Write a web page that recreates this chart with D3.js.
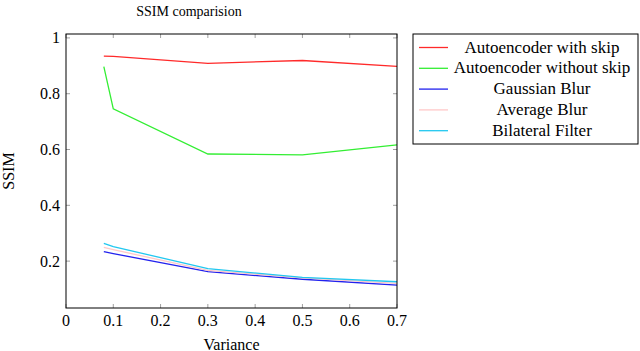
<!DOCTYPE html>
<html>
<head>
<meta charset="utf-8">
<script src="https://cdn.jsdelivr.net/npm/d3@7"></script>
<style>
  body { margin: 0; background: #fff; }
  text { font-family: "Liberation Serif", "DejaVu Serif", serif; fill: #000; }
</style>
</head>
<body>
<svg id="graph" width="640" height="351"></svg>
<script>
/*******************************************************************************************/
// Data

var variance = [0.08, 0.1, 0.3, 0.5, 0.7];
var skipAE   = [0.935, 0.934, 0.909, 0.919, 0.898];
var noSkipAE = [0.897, 0.746, 0.584, 0.581, 0.617];
var gaussian = [0.234, 0.227, 0.162, 0.135, 0.114];
var average  = [0.249, 0.241, 0.167, 0.140, 0.120];
var bilateral = [0.264, 0.252, 0.173, 0.142, 0.126];

var seriesNames = ['Autoencoder with skip', 'Autoencoder without skip', 'Gaussian Blur', 'Average Blur', 'Bilateral Filter'];
var seriesColors = ['#ff2a2a', '#33ee33', '#2222ee', '#ffc8c8', '#22c8f0'];
var seriesValues = [skipAE, noSkipAE, gaussian, average, bilateral];

var xTicks = [0, 0.1, 0.2, 0.3, 0.4, 0.5, 0.6, 0.7];
var yTicks = [0.2, 0.4, 0.6, 0.8, 1];

/*******************************************************************************************/
// Scales and frame

var pLeft = 66, pRight = 397, pTop = 34, pBottom = 308;
var xScale = d3.scaleLinear().domain([0, 0.7]).range([pLeft, pRight]);
var yScale = d3.scaleLinear().domain([0.032, 1.014]).range([pBottom, pTop]);

var svg = d3.select('#graph');

var fmt = function(d){ return d === 0 || d === 1 ? String(d) : d3.format('.1f')(d); };

// ticks on all four sides, pointing inwards
var tickLen = 4;
var ticks = svg.append('g').attr('stroke', '#888').attr('stroke-width', 0.8);
xTicks.forEach(function(t){
  ticks.append('line').attr('x1', xScale(t)).attr('x2', xScale(t)).attr('y1', pBottom).attr('y2', pBottom - tickLen);
  ticks.append('line').attr('x1', xScale(t)).attr('x2', xScale(t)).attr('y1', pTop).attr('y2', pTop + tickLen);
});
yTicks.forEach(function(t){
  ticks.append('line').attr('x1', pLeft).attr('x2', pLeft + tickLen).attr('y1', yScale(t)).attr('y2', yScale(t));
  ticks.append('line').attr('x1', pRight).attr('x2', pRight - tickLen).attr('y1', yScale(t)).attr('y2', yScale(t));
});

svg.selectAll('.xlab').data(xTicks).enter().append('text')
  .attr('x', function(d){ return xScale(d); }).attr('y', 326)
  .attr('text-anchor', 'middle').style('font-size', '16px').text(fmt);

svg.selectAll('.ylab').data(yTicks).enter().append('text')
  .attr('x', pLeft - 6).attr('y', function(d){ return yScale(d) + 5.5; })
  .attr('text-anchor', 'end').style('font-size', '16px').text(fmt);

/*******************************************************************************************/
// Lines

var lineGen = d3.line().x(function(d, i){ return xScale(variance[i]); }).y(function(d){ return yScale(d); });

seriesValues.forEach(function(vals, i){
  svg.append('path').attr('d', lineGen(vals))
    .attr('fill', 'none').attr('stroke', seriesColors[i]).attr('stroke-width', 1.3);
});

svg.append('rect').attr('x', pLeft).attr('y', pTop).attr('width', pRight - pLeft).attr('height', pBottom - pTop)
  .attr('fill', 'none').attr('stroke', '#000').attr('stroke-width', 1);

/*******************************************************************************************/
// Labels

svg.append('text').attr('x', 189).attr('y', 16).attr('text-anchor', 'middle')
  .style('font-size', '14px').text('SSIM comparision');
svg.append('text').attr('x', (pLeft + pRight) / 2).attr('y', 350).attr('text-anchor', 'middle')
  .style('font-size', '16px').text('Variance');
svg.append('text').attr('transform', 'translate(' + 14 + ',' + 171 + ') rotate(-90)')
  .attr('text-anchor', 'middle').style('font-size', '16px').text('SSIM');

/*******************************************************************************************/
// Legend

var legend = svg.append('g');
legend.append('rect').attr('x', 413).attr('y', 34).attr('width', 225).attr('height', 110)
  .attr('fill', '#fff').attr('stroke', '#000').attr('stroke-width', 1);
seriesNames.forEach(function(name, i){
  var y = 47.5 + i * 20.8;
  legend.append('line').attr('x1', 419).attr('x2', 448).attr('y1', y).attr('y2', y)
    .attr('stroke', seriesColors[i]).attr('stroke-width', 1.3);
  legend.append('text').attr('x', 542).attr('y', y + 5).attr('text-anchor', 'middle')
    .style('font-size', '17px').text(name);
});
</script>
</body>
</html>
